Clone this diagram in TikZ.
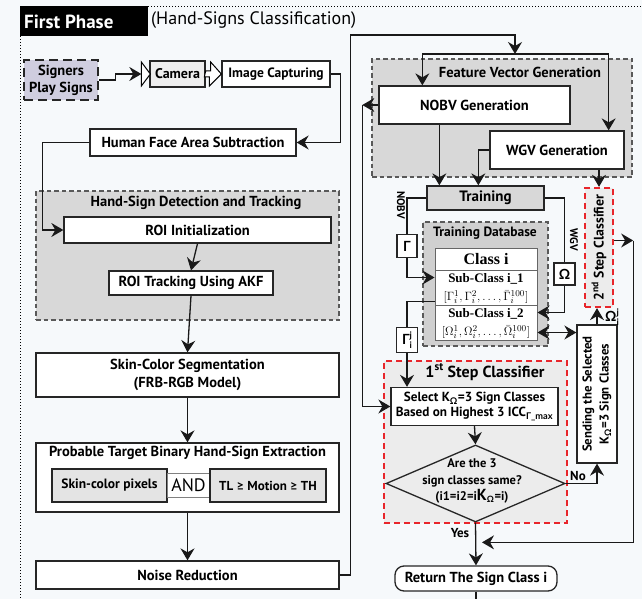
\documentclass[tikz,border=0pt]{standalone}
\usepackage{fontspec}
\setmainfont{PT Sans}
\newfontfamily\grk{Lato}
\newfontfamily\tms{Liberation Serif}
\usetikzlibrary{arrows.meta,shapes.geometric,calc}
\definecolor{bgc}{HTML}{F6F9FB}
\definecolor{regc}{HTML}{D8D8D8}
\definecolor{tdbc}{HTML}{D0D0D0}
\definecolor{lightg}{HTML}{ECECEC}
\definecolor{boxg}{HTML}{E4E4E4}
\definecolor{camg}{HTML}{EEEEEE}
\definecolor{redc}{HTML}{E8262B}
\definecolor{lav}{HTML}{CFCDDF}
\newcommand{\supsub}[3]{#1\rlap{\raisebox{5.5pt}{\fontsize{9}{9}\selectfont #2}}\raisebox{-4pt}{\fontsize{9}{9}\selectfont #3}}
\tikzset{
 bx/.style={draw=black!85,line width=1.3pt,fill=white,inner sep=0pt,align=center,font=\bfseries\fontsize{14.5}{18}\selectfont},
 region/.style={draw=black!65,line width=1.1pt,dash pattern=on 4.5pt off 3pt,fill=regc,inner sep=0pt},
 redreg/.style={draw=redc,line width=2.3pt,dash pattern=on 6pt off 4pt,fill=lightg,inner sep=0pt},
 ln/.style={line width=1.3pt,draw=black!90},
 arr/.style={ln,-{Stealth[length=12pt,width=14pt,inset=4pt]}},
 darr/.style={ln,{Stealth[length=12pt,width=14pt,inset=4pt]}-{Stealth[length=12pt,width=14pt,inset=4pt]}},
 ttl/.style={font=\bfseries\fontsize{14.5}{16}\selectfont,inner sep=0pt},
 lbl/.style={font=\bfseries\fontsize{11}{12}\selectfont,inner sep=0pt},
 tcell/.style={draw=black!60,line width=1pt,fill=white,inner sep=0pt,align=center,minimum width=102pt},
 thd/.style={font=\tms\bfseries\fontsize{13}{14}\selectfont,inner sep=0pt},
 tvec/.style={font=\tms\fontsize{12.5}{14}\selectfont,inner sep=0pt},
}
\begin{document}
\begin{tikzpicture}[x=1pt,y=-1pt]
\useasboundingbox (0,0) rectangle (642,599);
\fill[bgc] (0,0) rectangle (642,599);
% frame
\draw[line width=1pt,dotted] (148,7) -- (642,7);
\draw[line width=1pt,dotted] (20,36) -- (20,599);
\node[fill=black,minimum width=128pt,minimum height=30pt,inner sep=0pt] (fp) at (84,21.5) {};
\node[anchor=west,text=white,font=\bfseries\fontsize{19}{21}\selectfont,inner sep=0pt] (fpt) at (24,21.5) {First Phase};
\node[anchor=west,font=\fontsize{18}{20}\selectfont,inner sep=0pt] (sub) at (151,20) {(Hand-Signs Classification)};

% regions
\node[region,minimum width=303pt,minimum height=129pt] (hsdt) at (187.5,255.5) {};
\node[ttl] (hsdtt) at (196,203) {Hand-Sign Detection and Tracking};
\node[region,minimum width=260pt,minimum height=118pt] (fvg) at (502,118) {};
\node[ttl] (fvgt) at (520,72) {Feature Vector Generation};
\node[region,fill=tdbc,minimum width=125pt,minimum height=124pt] (tdb) at (485.5,284) {};
\node[ttl,font=\bfseries\fontsize{13.5}{15}\selectfont] (tdbt) at (485,233) {Training Database};
\node[redreg,minimum width=183pt,minimum height=162pt] (s1) at (475.5,442) {};
\node[ttl,font=\bfseries\fontsize{16}{18}\selectfont] (s1t) at (485,372) {1\textsuperscript{st} Step Classifier};
\node[redreg,minimum width=28pt,minimum height=119pt] (step2) at (599,247.5) {};
\node[ttl,rotate=90,font=\bfseries\fontsize{13.8}{15}\selectfont] (s2t) at (step2) {2\textsuperscript{nd} Step Classifier};

% left column
\node[draw=black!85,line width=2.6pt,dash pattern=on 9pt off 5pt,fill=lav,inner sep=0pt,minimum width=74pt,minimum height=40pt,align=center,font=\bfseries\fontsize{14.5}{17}\selectfont] (signers) at (61,80) {Signers\\Play Signs};
\node[bx,fill=camg,minimum width=55pt,minimum height=26pt,font=\bfseries\fontsize{14}{16}\selectfont] (camera) at (177.5,74) {Camera};
\node[bx,minimum width=108pt,minimum height=26pt,font=\bfseries\fontsize{13.5}{16}\selectfont] (imgcap) at (276,74) {Image Capturing};
\node[bx,minimum width=206pt,minimum height=27pt] (face) at (193,142.5) {Human Face Area Subtraction};
\node[bx,minimum width=267pt,minimum height=26pt] (roiinit) at (197.5,230) {ROI Initialization};
\node[bx,minimum width=164pt,minimum height=24pt] (roitrack) at (191,283) {ROI Tracking Using AKF};
\node[bx,minimum width=303pt,minimum height=44pt] (skin) at (187.5,375) {Skin-Color Segmentation\\(FRB-RGB Model)};
\node[bx,minimum width=303pt,minimum height=69pt] (prob) at (187.5,477.5) {};
\node[ttl] (probt) at (187.5,453) {Probable Target Binary Hand-Sign Extraction};
\node[bx,fill=boxg,minimum width=115pt,minimum height=33pt,font=\bfseries\fontsize{13.5}{16}\selectfont] (skinpix) at (109.5,485.5) {Skin-color pixels};
\node[draw=black!50,line width=0.8pt,fill=white,minimum width=43pt,minimum height=24pt,inner sep=0pt,font=\fontsize{18}{20}\selectfont] (and) at (188.5,485.5) {AND};
\node[bx,fill=boxg,minimum width=116pt,minimum height=33pt,font=\bfseries\fontsize{13}{16}\selectfont] (tl) at (268,485.5) {TL {\grk ≥} Motion {\grk ≥} TH};
\node[bx,minimum width=303pt,minimum height=28pt] (noise) at (187.5,575) {Noise Reduction};

% right column
\node[bx,minimum width=191pt,minimum height=38pt,font=\bfseries\fontsize{14.5}{17}\selectfont] (nobv) at (474.5,105) {NOBV Generation};
\node[bx,minimum width=134pt,minimum height=38pt,font=\bfseries\fontsize{14.5}{17}\selectfont] (wgv) at (557,150) {WGV Generation};
\node[bx,fill=regc,minimum width=117pt,minimum height=24pt,font=\bfseries\fontsize{15}{17}\selectfont] (training) at (485.5,198) {Training};
\node[tcell,minimum height=22pt,font=\tms\bfseries\fontsize{16}{18}\selectfont] (cls) at (486,259) {Class i};
\node[tcell,minimum height=35pt] (sub1) at (486,287.5) {};
\node[thd] (sub1h) at (486,279) {Sub-Class i\_1};
\node[tvec] (sub1v) at (486,297) {$[\Gamma_i^1, \Gamma_i^2, \ldots, \bar{\Gamma}_i^{100}]$};
\node[tcell,minimum height=35pt] (sub2) at (486,322.5) {};
\node[thd] (sub2h) at (486,314) {Sub-Class i\_2};
\node[tvec] (sub2v) at (486,332) {$[\Omega_i^1, \Omega_i^2, \ldots, \bar{\Omega}_i^{100}]$};
\node[bx,minimum width=20pt,minimum height=23pt,font=\bfseries\fontsize{14}{16}\selectfont] (gam) at (407,246) {\grk Γ};
\node[bx,minimum width=21pt,minimum height=22pt,font=\bfseries\fontsize{14}{16}\selectfont] (omg) at (564.5,274) {\grk Ω};
\node[bx,minimum width=21pt,minimum height=25pt,font=\bfseries\fontsize{14}{16}\selectfont] (gamj) at (407,340) {\supsub{\grk Γ}{j}{i}};
\node[lbl,rotate=-90] (nobvl) at (401,205) {NOBV};
\node[lbl,rotate=-90] (wgvl) at (574,240) {WGV};
\node[bx,minimum width=167pt,minimum height=38pt,font=\bfseries\fontsize{13.2}{15}\selectfont] (select) at (474.5,406.5) {Select K\textsubscript{\grk Ω}=3 Sign Classes\\Based on Highest 3 ICC\textsubscript{\grk Γ\_max}};
\node[diamond,draw=black!85,line width=1.3pt,fill=lightg,minimum width=179pt,minimum height=77pt,inner sep=0pt] (dia) at (475.5,483.5) {};
\node[font=\bfseries\fontsize{12.5}{16.5}\selectfont,align=center,inner sep=0pt] (diat) at (472,481) {Are the 3\\sign classes same?\\(i1=i2=i{\fontsize{16}{16}\selectfont K}\textsubscript{\grk Ω}=i)};
\node[bx,minimum width=40pt,minimum height=138pt] (send) at (597,394) {};
\node[rotate=90,align=center,font=\bfseries\fontsize{12.8}{17}\selectfont,inner sep=0pt] (sendt) at (send) {Sending the Selected\\K\textsubscript{\grk Ω}=3 Sign Classes};
\node[bx,rounded corners=9pt,minimum width=162pt,minimum height=25pt,font=\bfseries\fontsize{14.5}{16}\selectfont] (ret) at (476,578.5) {Return The Sign Class i};

% connectors left
\draw[arr] (signers.east) -- ++(16,0) |- ($(camera.west)+(-8,0)$);
\draw[line width=1pt,fill=white] ($(camera.west)+(-8,-12)$) -- ($(camera.west)+(1,0)$) -- ($(camera.west)+(-8,12)$) -- cycle;
\draw[line width=1pt,fill=white] ($(camera.east)+(0,-3)$) -- ++(5,0) -- ++(0,-9) -- (imgcap.west) -- ++(-12,12) -- ++(0,-9) -- ++(-5,0) -- cycle;
\draw[arr] (imgcap.east) -- ++(10,0) |- (face.east);
\draw[arr] (face.west) -- ++(-47,0) |- (roiinit.west);
\draw[arr] (roiinit.south) -- (roitrack.north);
\draw[arr] (roitrack.south) -- (skin.north);
\draw[arr] (skin.south) -- (prob.north);
\draw[arr] (prob.south) -- (noise.north);

% top feed
\coordinate (split) at (515,54);
\draw[arr] (noise.east) -- ++(11,0) |- ($(split)+(0,-19)$) -- (split);
\draw[arr] (split) -| ($(nobv.north west)+(44,0)$);
\draw[arr] (split) -| ($(wgv.north east)+(-16,0)$);
\draw[arr] (nobv.west) -- ++(-16,0) coordinate (nb);
\draw[arr] (nb) |- (select.west);
\draw[arr] ($(nobv.south west)+(61,0)$) -- ($(training.north west)+(13,0)$);
\draw[arr] (wgv.west) -| ($(training.north west)+(52,0)$);
\draw[arr] (wgv.south -| step2.north) -- (step2.north);

% training links
\draw[ln] (training.west) -| (gam.north);
\draw[arr] (gam.south) |- ($(sub1.north west)+(0,8)$);
\draw[ln] (training.east) -| (omg.north);
\draw[arr] (omg.south) |- ($(sub2.north east)+(0,8)$);
\draw[ln] ($(sub1.south west)+(0,-4)$) -| (gamj.north);
\draw[arr] (gamj.south) -- (gamj.south |- select.north);
\draw[darr] ($(sub2.east)+(0,10)$) -- ($(sub2.east -| send.west)+(0,10)$);
\draw[arr] (send.north) -- (send.north |- step2.south);
\node[font=\bfseries\fontsize{14}{16}\selectfont,inner sep=0pt,anchor=west] (omgj) at (605,317) {\supsub{\grk Ω}{j}{i}};

% classifier flow
\draw[arr] ($(step2.east)+(0,-7)$) -- ++(19,0) coordinate (rj);
\draw[arr] (rj) |- ($(ret.north)+(6,-23)$);
\draw[arr] (select.south) -- (dia.north);
\draw[arr] (dia.east) -| (send.south);
\node[lbl,font=\bfseries\fontsize{13}{14}\selectfont] (nol) at (578,476) {No};
\draw[arr] (dia.south) -- (ret.north);
\node[lbl,font=\bfseries\fontsize{13}{14}\selectfont] (yesl) at (460,533) {Yes};
\draw[ln] (ret.south) -- ++(0,12);
\end{tikzpicture}
\end{document}
